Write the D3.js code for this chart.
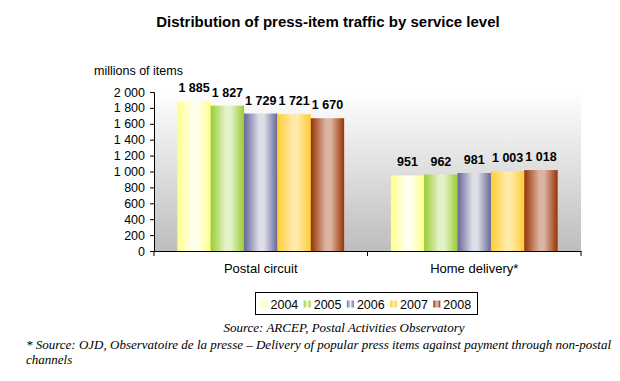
<!DOCTYPE html>
<html><head><meta charset="utf-8">
<script src="https://cdnjs.cloudflare.com/ajax/libs/d3/7.8.5/d3.min.js"></script>
<style>
  body { margin: 0; background: #fff; }
  svg text { font-family: "Liberation Sans", Arial, sans-serif; }
  .note { font-family: "Liberation Serif", "Times New Roman", serif !important; font-style: italic; }
</style>
</head>
<body>
<svg id="chart" width="620" height="381"></svg>
<script>
const categories = ["Postal circuit", "Home delivery*"];
const years = ["2004", "2005", "2006", "2007", "2008"];
const postal = [1885, 1827, 1729, 1721, 1670];
const home = [951, 962, 981, 1003, 1018];
const yTicks = [0, 200, 400, 600, 800, 1000, 1200, 1400, 1600, 1800, 2000];
// edge colour / centre colour of each year's cylinder-like bar
const edgeColors = ["#ffff88", "#99cc33", "#666699", "#ffcc33", "#993300"];
const midColors = ["#ffffee", "#e4f2c8", "#dedee8", "#ffeaa8", "#dcb4a4"];

const series = [postal, home];
const fmt = v => d3.format(",")(v).replace(",", " ");

const svg = d3.select("#chart");
const pLeft = 154, pRight = 581, pTop = 92, pBottom = 251;

const x = d3.scaleBand().domain(categories).range([pLeft, pRight]);
const xi = d3.scaleBand().domain(years).range([0, x.bandwidth()]).paddingOuter(0.7).paddingInner(0);
const y = d3.scaleLinear().domain([0, 2000]).range([pBottom, pTop]);

const defs = svg.append("defs");
const bg = defs.append("linearGradient").attr("id", "bg").attr("x1", 0).attr("y1", 0).attr("x2", 0).attr("y2", 1);
bg.append("stop").attr("offset", 0).attr("stop-color", "#ffffff");
bg.append("stop").attr("offset", 1).attr("stop-color", "#bdbdbd");

years.forEach((yr, i) => {
  const g = defs.append("linearGradient").attr("id", "g" + yr);
  g.append("stop").attr("offset", 0).attr("stop-color", edgeColors[i]);
  g.append("stop").attr("offset", 0.45).attr("stop-color", midColors[i]);
  g.append("stop").attr("offset", 0.6).attr("stop-color", midColors[i]);
  g.append("stop").attr("offset", 1).attr("stop-color", edgeColors[i]);
});

// title
svg.append("text").attr("x", 328).attr("y", 27).attr("text-anchor", "middle")
  .attr("font-size", 15).attr("font-weight", "bold").text("Distribution of press-item traffic by service level");

svg.append("text").attr("x", 94).attr("y", 75).attr("font-size", 12.5).text("millions of items");

// plot background
svg.append("rect").attr("x", pLeft).attr("y", pTop).attr("width", pRight - pLeft).attr("height", pBottom - pTop)
  .attr("fill", "url(#bg)");

// bars
categories.forEach((c, ci) => {
  const g = svg.append("g").attr("transform", `translate(${x(c)},0)`);
  g.selectAll("rect").data(series[ci]).join("rect")
    .attr("x", (d, i) => xi(years[i]))
    .attr("y", d => y(d))
    .attr("width", xi.bandwidth())
    .attr("height", d => pBottom - y(d))
    .attr("fill", (d, i) => `url(#g${years[i]})`);
  g.selectAll("text").data(series[ci]).join("text")
    .attr("x", (d, i) => xi(years[i]) + xi.bandwidth() / 2)
    .attr("y", d => y(d) - 9)
    .attr("text-anchor", "middle")
    .attr("font-size", 12.5).attr("font-weight", "bold")
    .text(d => fmt(d));
});

// axes
const yAxis = d3.axisLeft(y).tickValues(yTicks).tickSize(4).tickFormat(fmt);
const ya = svg.append("g").attr("transform", `translate(${pLeft},0)`).call(yAxis);
ya.selectAll("text").attr("font-size", 12.5).attr("fill", "#000").attr("x", -9)
  .attr("font-family", "Liberation Sans, Arial, sans-serif");
ya.select(".domain").attr("stroke", "#000");
ya.selectAll(".tick line").attr("stroke", "#000");

const xAxis = d3.axisBottom(x).tickSize(0).tickSizeOuter(0);
const xa = svg.append("g").attr("transform", `translate(0,${pBottom})`).call(xAxis);
xa.select(".domain").attr("stroke", "#000");
xa.selectAll("text").attr("font-size", 13).attr("fill", "#000").attr("dy", "1.45em")
  .attr("font-family", "Liberation Sans, Arial, sans-serif");
// category separator ticks
xa.selectAll(".sep").data([pLeft, x(categories[1]), pRight]).join("line")
  .attr("x1", d => d).attr("x2", d => d).attr("y1", 0).attr("y2", 5).attr("stroke", "#000");

// legend
const lg = svg.append("g").attr("transform", "translate(255.5,292.5)");
lg.append("rect").attr("width", 222).attr("height", 22).attr("fill", "#fff").attr("stroke", "#000");
years.forEach((yr, i) => {
  const it = lg.append("g").attr("transform", `translate(${5 + i * 43.2},0)`);
  it.append("rect").attr("x", 0).attr("y", 8).attr("width", 7).attr("height", 7).attr("fill", `url(#g${yr})`);
  it.append("text").attr("x", 10).attr("y", 16).attr("font-size", 12.5).text(yr);
});

// notes
svg.append("text").attr("class", "note").attr("x", 344).attr("y", 332).attr("text-anchor", "middle")
  .attr("font-size", 13).text("Source: ARCEP, Postal Activities Observatory");
svg.append("text").attr("class", "note").attr("x", 26).attr("y", 349)
  .attr("font-size", 13).text("* Source: OJD, Observatoire de la presse \u2013 Delivery of popular press items against payment through non-postal");
svg.append("text").attr("class", "note").attr("x", 26).attr("y", 364)
  .attr("font-size", 13).text("channels");
</script>
</body></html>
